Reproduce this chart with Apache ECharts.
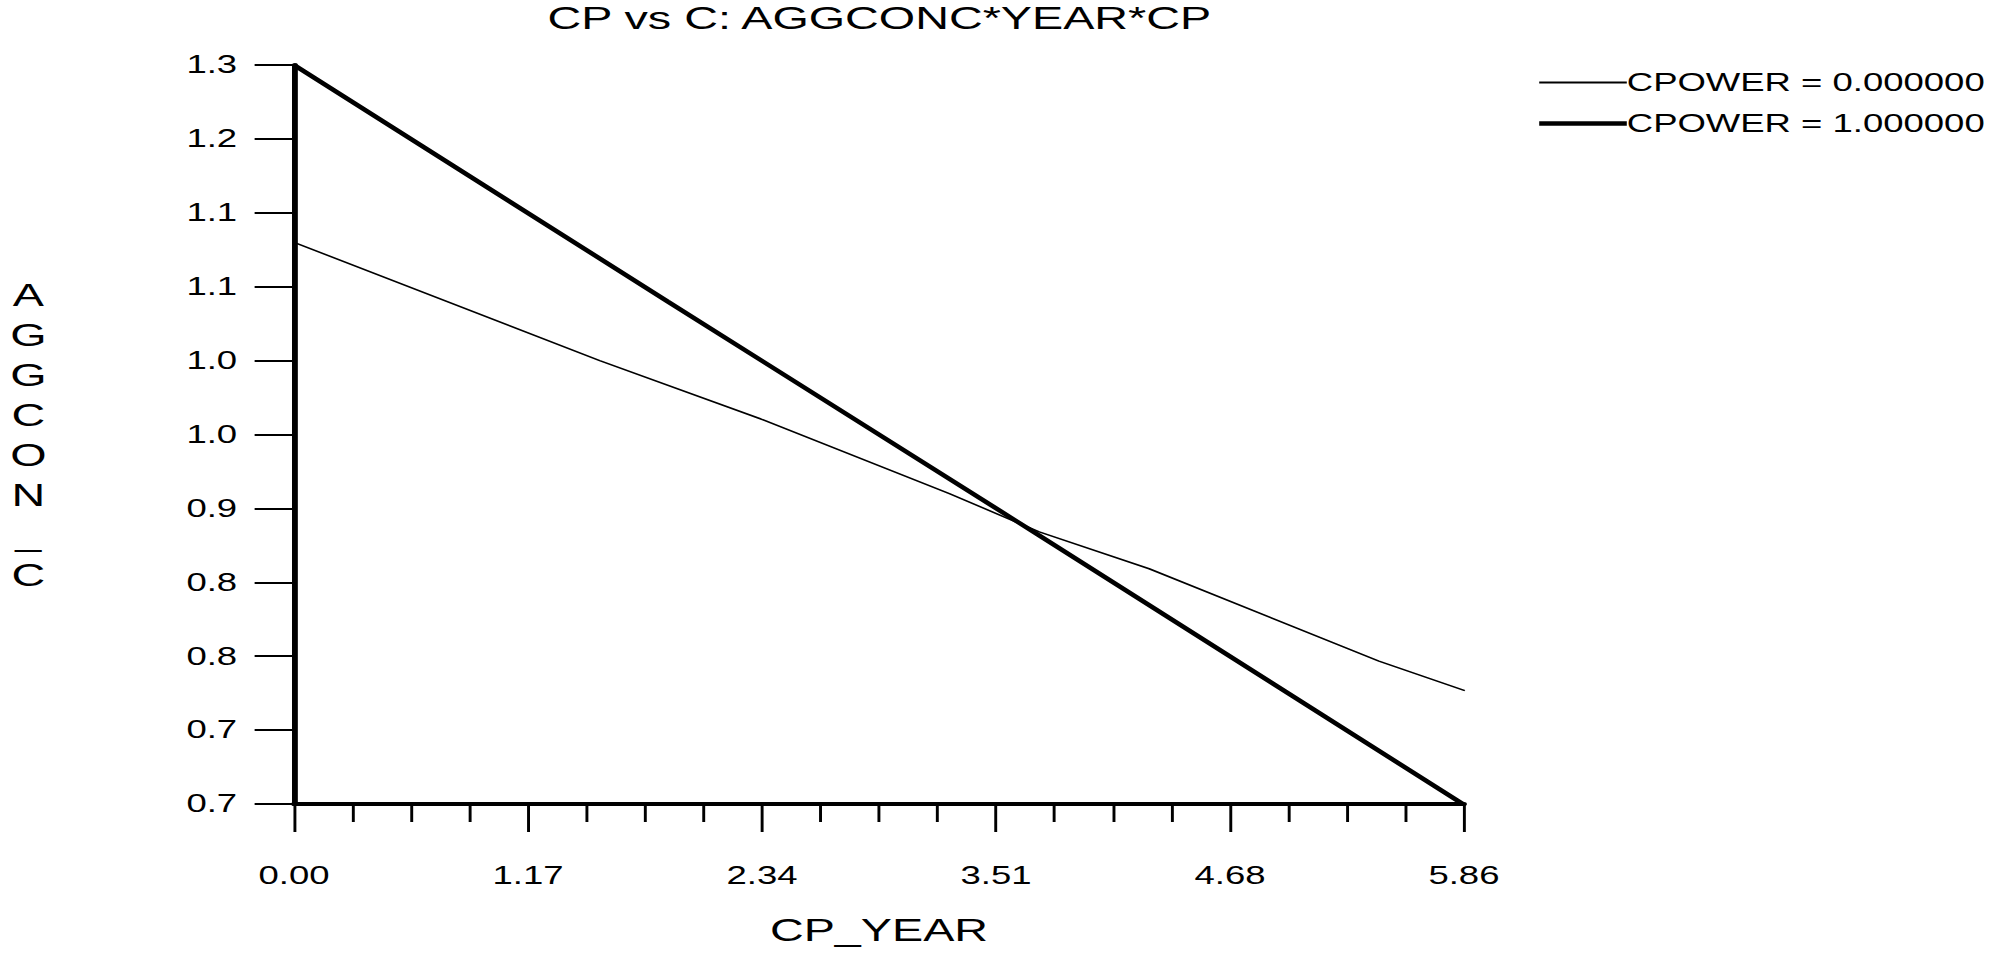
<!DOCTYPE html>
<html>
<head>
<meta charset="utf-8">
<title>CP vs C: AGGCONC*YEAR*CP</title>
<script src="https://cdn.jsdelivr.net/npm/echarts@6/dist/echarts.min.js"></script>
<style>
  html, body { margin: 0; padding: 0; background: #ffffff; overflow: hidden; }
  /* the plot is laid out in a narrower box and widened to the page */
  #chart { width: 1375px; height: 956px; transform: scaleX(1.46); transform-origin: 0 0; }
</style>
</head>
<body>
<div id="chart"></div>
<script>
// CP_YEAR tick labels and axis extent
const xTickLabels = ['0.00', '1.17', '2.34', '3.51', '4.68', '5.86'];
const xMax = 5.8556;
const xStep = 1.17112;

// AGGCON_C axis: 11 ticks, labels shown to one decimal
const yTickLabels = ['0.7', '0.7', '0.8', '0.8', '0.9', '1.0', '1.0', '1.1', '1.1', '1.2', '1.3'];
const yMin = 0.66;
const yMax = 1.26;
const yStep = 0.06;

// CPOWER = 0.000000
const cp0Year = [0, 1.53, 2.33, 3.28, 3.73, 4.28, 5.43, 5.86];
const cp0Conc = [1.116, 1.020, 0.973, 0.912, 0.881, 0.851, 0.776, 0.752];

// CPOWER = 1.000000
const cp1Year = [0, 1.87, 3.73, 5.85];
const cp1Conc = [1.26, 1.068, 0.878, 0.66];

const seriesNames = ['CPOWER = 0.000000', 'CPOWER = 1.000000'];
const lineWidths = [1.5, 4];

const zip = (xs, ys) => xs.map((x, i) => [x, ys[i]]);
const FONT = 'Liberation Sans, Arial, sans-serif';

const chart = echarts.init(document.getElementById('chart'), null, { renderer: 'svg' });

chart.setOption({
  animation: false,
  backgroundColor: '#ffffff',
  title: {
    text: 'CP vs C: AGGCONC*YEAR*CP',
    left: 375,
    top: 2,
    padding: 0,
    textStyle: { fontFamily: FONT, fontSize: 32, fontWeight: 'normal', color: '#000' }
  },
  legend: {
    orient: 'vertical',
    left: 1052,
    top: 70,
    padding: 0,
    itemWidth: 60,
    itemHeight: 14,
    itemGap: 16,
    selectedMode: false,
    data: seriesNames.map((name, i) => ({
      name: name,
      itemStyle: { opacity: 0 },
      lineStyle: { width: lineWidths[i] + 0.5, color: '#000' }
    })),
    textStyle: { fontFamily: FONT, fontSize: 25, color: '#000', padding: [0, 0, 0, -5] }
  },
  grid: { left: 201.4, right: 372.3, top: 65, bottom: 152, containLabel: false },
  xAxis: {
    type: 'value',
    min: 0,
    max: xMax,
    interval: xStep,
    name: 'CP_YEAR',
    nameLocation: 'middle',
    nameGap: 110,
    nameTextStyle: { fontFamily: FONT, fontSize: 32, color: '#000' },
    axisLine: { lineStyle: { color: '#000', width: 4 } },
    axisTick: { length: 28, lineStyle: { color: '#000', width: 2 } },
    minorTick: { show: true, splitNumber: 4, length: 18, lineStyle: { color: '#000', width: 2 } },
    splitLine: { show: false },
    axisLabel: {
      margin: 59,
      fontFamily: FONT,
      fontSize: 25,
      color: '#000',
      formatter: (v) => xTickLabels[Math.round(v / xStep)]
    }
  },
  yAxis: {
    type: 'value',
    min: yMin,
    max: yMax,
    interval: yStep,
    name: 'AGGCON_C'.split('').join('\n'),
    nameLocation: 'middle',
    nameRotate: 0,
    nameGap: 182,
    nameTextStyle: { fontFamily: FONT, fontSize: 32, color: '#000', lineHeight: 40, align: 'center', verticalAlign: 'middle' },
    axisLine: { show: true, lineStyle: { color: '#000', width: 4 } },
    axisTick: { show: true, length: 27, lineStyle: { color: '#000', width: 2 } },
    splitLine: { show: false },
    axisLabel: {
      margin: 39,
      fontFamily: FONT,
      fontSize: 25,
      color: '#000',
      formatter: (v) => yTickLabels[Math.round((v - yMin) / yStep)]
    }
  },
  series: seriesNames.map((name, i) => ({
    name: name,
    type: 'line',
    data: i === 0 ? zip(cp0Year, cp0Conc) : zip(cp1Year, cp1Conc),
    showSymbol: false,
    symbol: 'none',
    clip: false,
    lineStyle: { color: '#000', width: lineWidths[i] },
    itemStyle: { color: '#000' }
  }))
});
</script>
</body>
</html>
